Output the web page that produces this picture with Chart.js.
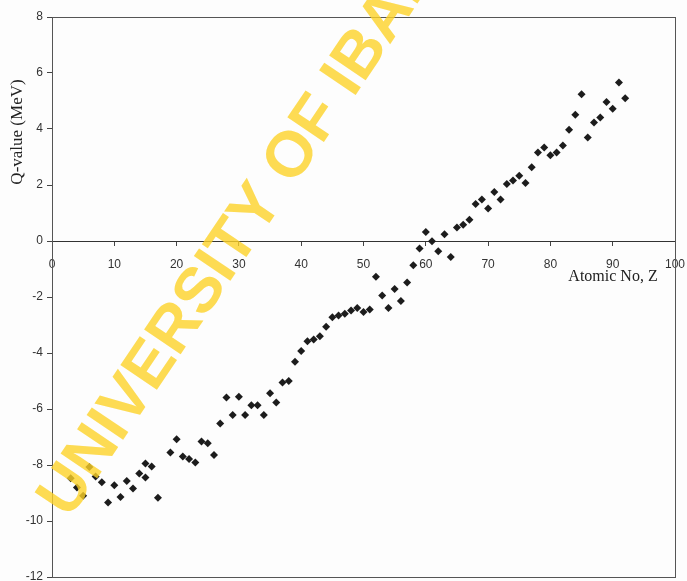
<!DOCTYPE html>
<html>
<head>
<meta charset="utf-8">
<script src="https://cdn.jsdelivr.net/npm/chart.js@4.4.0/dist/chart.umd.min.js"></script>
<style>
  html, body { margin: 0; padding: 0; background: #fdfdfd; }
  #wrap { width: 687px; height: 581px; }
</style>
</head>
<body>
<div id="wrap"><canvas id="qChart"></canvas></div>
<script>
// values
const atomicNo = [3, 4, 5, 6, 7, 8, 9, 10, 11, 12, 13, 14, 15, 15, 16, 17,
  19, 20, 21, 22, 23, 24, 25, 26, 27, 28, 29, 30, 31, 32, 33, 34, 35, 36, 37, 38,
  39, 40, 41, 42, 43, 44, 45, 46, 47, 48, 49, 50, 51, 52, 53, 54, 55, 56, 57, 58,
  59, 60, 61, 62, 63, 64, 65, 66, 67, 68, 69, 70, 71, 72, 73, 74, 75, 76, 77, 78,
  79, 80, 81, 82, 83, 84, 85, 86, 87, 88, 89, 90, 91, 92];
const qValue = [-8.47, -8.80, -9.10, -8.07, -8.41, -8.62, -9.34, -8.72, -9.14, -8.57, -8.84, -8.30, -8.45, -7.95, -8.05, -9.17,
  -7.55, -7.08, -7.70, -7.79, -7.91, -7.16, -7.22, -7.64, -6.52, -5.59, -6.21, -5.56, -6.21, -5.87, -5.87, -6.21, -5.44, -5.77, -5.05, -5.00,
  -4.31, -3.93, -3.58, -3.52, -3.40, -3.06, -2.72, -2.66, -2.60, -2.48, -2.39, -2.54, -2.45, -1.28, -1.95, -2.39, -1.71, -2.14, -1.48, -0.87,
  -0.27, 0.32, -0.01, -0.37, 0.24, -0.57, 0.48, 0.58, 0.76, 1.32, 1.48, 1.16, 1.75, 1.48, 2.04, 2.16, 2.33, 2.07, 2.63, 3.16,
  3.34, 3.06, 3.16, 3.41, 3.97, 4.51, 5.24, 3.70, 4.23, 4.41, 4.96, 4.72, 5.66, 5.10];

const xRange = [0, 100];
const yRange = [-12, 8];
const xStep = 10;
const yStep = 2;

const xTitle = 'Atomic No, Z';
const yTitle = 'Q-value (MeV)';
const watermark = 'UNIVERSITY OF IBADAN';

// box around the plot area (top, right, bottom)
const framePlugin = {
  id: 'frame',
  beforeDatasetsDraw(chart) {
    const a = chart.chartArea;
    const ctx = chart.ctx;
    ctx.save();
    ctx.strokeStyle = '#555';
    ctx.lineWidth = 1;
    ctx.strokeRect(Math.round(a.left) + 0.5, Math.round(a.top) + 0.5,
      Math.round(a.right - a.left), Math.round(a.bottom - a.top));
    ctx.restore();
  }
};

// axis titles + the yellow stamp across the page
const textPlugin = {
  id: 'texts',
  afterDraw(chart) {
    const ctx = chart.ctx;
    ctx.save();
    ctx.fillStyle = '#222';
    ctx.font = '16px "Liberation Serif"';
    ctx.textAlign = 'center';
    ctx.textBaseline = 'middle';
    ctx.fillText(xTitle, 613, 277);

    ctx.save();
    ctx.translate(18, 132);
    ctx.rotate(-Math.PI / 2);
    ctx.font = '17px "Liberation Serif"';
    ctx.fillText(yTitle, 0, 0);
    ctx.restore();

    ctx.translate(69, 520);
    ctx.rotate(-56 * Math.PI / 180);
    ctx.font = 'bold 64px "Liberation Sans"';
    ctx.textAlign = 'left';
    ctx.textBaseline = 'alphabetic';
    ctx.globalAlpha = 0.8;
    ctx.fillStyle = 'rgb(253, 210, 40)';
    ctx.fillText(watermark, 0, 0);
    ctx.restore();
  }
};

const ctx = document.getElementById('qChart').getContext('2d');
const qChart = new Chart(ctx, {
  type: 'scatter',
  data: {
    datasets: [{
      data: atomicNo.map((z, i) => ({ x: z, y: qValue[i] })),
      pointStyle: 'rectRot',
      pointRadius: 4,
      pointHoverRadius: 4,
      backgroundColor: '#1c1c1c',
      borderWidth: 0
    }]
  },
  options: {
    responsive: true,
    maintainAspectRatio: false,
    animation: false,
    layout: { padding: { left: 0, right: 12, top: 17, bottom: 3 } },
    plugins: {
      legend: { display: false },
      tooltip: { enabled: false }
    },
    scales: {
      x: {
        type: 'linear',
        min: xRange[0],
        max: xRange[1],
        position: { y: 0 },
        afterFit: s => { s.height = 0; s.paddingLeft = 0; s.paddingRight = 0; },
        ticks: {
          stepSize: xStep,
          padding: 12,
          color: '#333',
          font: { family: 'Liberation Sans', size: 12 }
        },
        grid: { drawOnChartArea: false, tickLength: 4, color: '#444' },
        border: { color: '#333', width: 1 }
      },
      y: {
        min: yRange[0],
        max: yRange[1],
        afterFit: s => { s.width = 52; s.paddingTop = 0; s.paddingBottom = 0; },
        ticks: {
          stepSize: yStep,
          padding: 4,
          color: '#333',
          font: { family: 'Liberation Sans', size: 12 }
        },
        grid: { drawOnChartArea: false, tickLength: 5, color: '#444' },
        border: { color: '#444', width: 1 }
      }
    }
  },
  plugins: [framePlugin, textPlugin]
});
</script>
</body>
</html>
